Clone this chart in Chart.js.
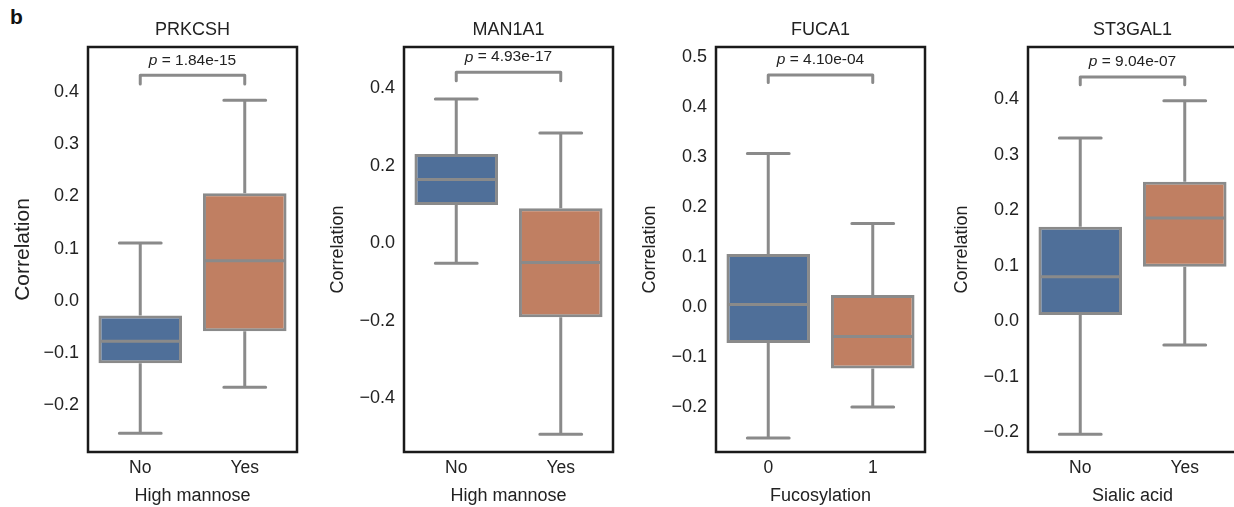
<!DOCTYPE html>
<html>
<head>
<meta charset="utf-8">
<script src="https://cdn.jsdelivr.net/npm/chart.js@4.4.1/dist/chart.umd.min.js"></script>
<style>
  html, body { margin: 0; padding: 0; background: #fff; }
  body { width: 1234px; height: 507px; position: relative; overflow: hidden; font-family: "Liberation Sans", Arial, sans-serif; }
  .panel { position: absolute; top: 0; height: 507px; }
  #tag { position: absolute; left: 10px; top: 5px; font-size: 21px; font-weight: bold; color: #111; }
</style>
</head>
<body>
<div id="tag">b</div>
<div class="panel" style="left:7px"><canvas id="c1" width="298" height="507"></canvas></div>
<div class="panel" style="left:323px"><canvas id="c2" width="298" height="507"></canvas></div>
<div class="panel" style="left:635px"><canvas id="c3" width="298" height="507"></canvas></div>
<div class="panel" style="left:947px"><canvas id="c4" width="298" height="507"></canvas></div>
<script>
// --- data ---
const genes = ['PRKCSH', 'MAN1A1', 'FUCA1', 'ST3GAL1'];
const groupLabels = [['No', 'Yes'], ['No', 'Yes'], ['0', '1'], ['No', 'Yes']];
const xTitles = ['High mannose', 'High mannose', 'Fucosylation', 'Sialic acid'];
const pValues = ['1.84e-15', '4.93e-17', '4.10e-04', '9.04e-07'];

// [group0, group1] per panel
const whiskerLow = [[-0.253, -0.165], [-0.052, -0.493], [-0.262, -0.200], [-0.204, -0.043]];
const q1 = [[-0.119, -0.058], [0.098, -0.191], [-0.072, -0.123], [0.011, 0.098]];
const median = [[-0.077, 0.077], [0.164, -0.050], [0.005, -0.059], [0.080, 0.186]];
const q3 = [[-0.028, 0.206], [0.230, 0.090], [0.106, 0.024], [0.170, 0.251]];
const whiskerHigh = [[0.111, 0.384], [0.372, 0.284], [0.307, 0.167], [0.330, 0.397]];

const bracketY = [0.432, 0.441, 0.464, 0.440];
const bracketLeg = [0.017, 0.022, 0.015, 0.014];

const yMin = [-0.289, -0.539, -0.290, -0.236];
const yMax = [0.486, 0.506, 0.520, 0.494];
const yTicks = [
  [-0.2, -0.1, 0.0, 0.1, 0.2, 0.3, 0.4],
  [-0.4, -0.2, 0.0, 0.2, 0.4],
  [-0.2, -0.1, 0.0, 0.1, 0.2, 0.3, 0.4, 0.5],
  [-0.2, -0.1, 0.0, 0.1, 0.2, 0.3, 0.4]
];

const boxColors = ['#4f6f99', '#c07f62'];
const lineGray = '#8a8a8a';
const FONT = '"Liberation Sans", Arial, sans-serif';

const fmt = v => (v < 0 ? '\u2212' : '') + Math.abs(v).toFixed(1);

// whiskers, medians, frame, significance bracket, panel title
const boxExtras = {
  id: 'boxExtras',
  afterDatasetsDraw(chart, args, opts) {
    const i = opts.panel;
    const ctx = chart.ctx;
    const ys = chart.scales.y;
    const meta = chart.getDatasetMeta(0);
    const a = chart.chartArea;
    ctx.save();
    ctx.strokeStyle = lineGray;
    ctx.lineWidth = 3;
    meta.data.forEach((bar, j) => {
      const x = bar.x, half = bar.width / 2;
      const yq1 = ys.getPixelForValue(q1[i][j]);
      const yq3 = ys.getPixelForValue(q3[i][j]);
      const ylo = ys.getPixelForValue(whiskerLow[i][j]);
      const yhi = ys.getPixelForValue(whiskerHigh[i][j]);
      const ymed = ys.getPixelForValue(median[i][j]);
      ctx.lineCap = 'butt';
      ctx.beginPath();
      ctx.moveTo(x, yq3); ctx.lineTo(x, yhi);
      ctx.moveTo(x, yq1); ctx.lineTo(x, ylo);
      ctx.stroke();
      ctx.lineCap = 'round';
      ctx.beginPath();
      ctx.moveTo(x - half / 2, yhi); ctx.lineTo(x + half / 2, yhi);
      ctx.moveTo(x - half / 2, ylo); ctx.lineTo(x + half / 2, ylo);
      ctx.stroke();
      ctx.lineCap = 'butt';
      ctx.beginPath();
      ctx.moveTo(x - half + 1.5, ymed); ctx.lineTo(x + half - 1.5, ymed);
      ctx.stroke();
    });
    // bracket
    const x0 = meta.data[0].x, x1 = meta.data[1].x;
    const by = ys.getPixelForValue(bracketY[i]);
    const bl = ys.getPixelForValue(bracketY[i] - bracketLeg[i]);
    ctx.lineJoin = 'round';
    ctx.lineCap = 'round';
    ctx.beginPath();
    ctx.moveTo(x0, bl); ctx.lineTo(x0, by); ctx.lineTo(x1, by); ctx.lineTo(x1, bl);
    ctx.stroke();
    // p text
    ctx.fillStyle = '#222';
    ctx.textBaseline = 'middle';
    const cx = (x0 + x1) / 2;
    const ty = by - 15;
    ctx.font = 'italic 15.5px ' + FONT;
    const pw = ctx.measureText('p').width;
    ctx.font = '15.5px ' + FONT;
    const rest = ' = ' + pValues[i];
    const rw = ctx.measureText(rest).width;
    const sx = cx - (pw + rw) / 2;
    ctx.textAlign = 'left';
    ctx.font = 'italic 15.5px ' + FONT;
    ctx.fillText('p', sx, ty);
    ctx.font = '15.5px ' + FONT;
    ctx.fillText(rest, sx + pw, ty);
    // gene title, centred over the frame
    ctx.font = '18px ' + FONT;
    ctx.textAlign = 'center';
    ctx.fillText(genes[i], (a.left + a.right) / 2, 30);
    // frame
    ctx.strokeStyle = '#1a1a1a';
    ctx.lineWidth = 2.5;
    ctx.lineJoin = 'miter';
    ctx.strokeRect(a.left, a.top, a.right - a.left, a.bottom - a.top);
    ctx.restore();
  }
};

genes.forEach((gene, i) => {
  const yTitleSize = i === 0 ? 21 : 18;
  new Chart(document.getElementById('c' + (i + 1)), {
    type: 'bar',
    data: {
      labels: groupLabels[i],
      datasets: [{
        data: q1[i].map((v, j) => [v, q3[i][j]]),
        backgroundColor: boxColors,
        borderColor: lineGray,
        borderWidth: 3,
        borderSkipped: false,
        barPercentage: 0.8,
        categoryPercentage: 1.0
      }]
    },
    options: {
      responsive: false,
      animation: false,
      devicePixelRatio: 1,
      layout: { padding: { left: 0, right: 8, top: 47, bottom: 0 } },
      plugins: {
        legend: { display: false },
        tooltip: { enabled: false },
        title: { display: false },
        boxExtras: { panel: i }
      },
      scales: {
        x: {
          grid: { display: false, drawTicks: false },
          border: { display: false },
          ticks: { color: '#222', padding: 6, font: { family: FONT, size: 17.5, lineHeight: 1.2 } },
          title: {
            display: true, text: xTitles[i], color: '#222',
            font: { family: FONT, size: 18, lineHeight: 1.2 }, padding: { top: 2, bottom: 0 }
          },
          afterFit: s => { s.height = 55; }
        },
        y: {
          min: yMin[i], max: yMax[i],
          grid: { display: false, drawTicks: false },
          border: { display: false },
          afterBuildTicks: s => { s.ticks = yTicks[i].map(v => ({ value: v })); },
          ticks: { color: '#222', padding: 9, font: { family: FONT, size: 18 }, callback: v => fmt(v) },
          title: {
            display: true, text: 'Correlation', color: '#222',
            font: { family: FONT, size: yTitleSize, lineHeight: 1.2 }, padding: { top: 4, bottom: 4 }
          },
          afterFit: s => { s.width = 81; }
        }
      }
    },
    plugins: [boxExtras]
  });
});
</script>
</body>
</html>
